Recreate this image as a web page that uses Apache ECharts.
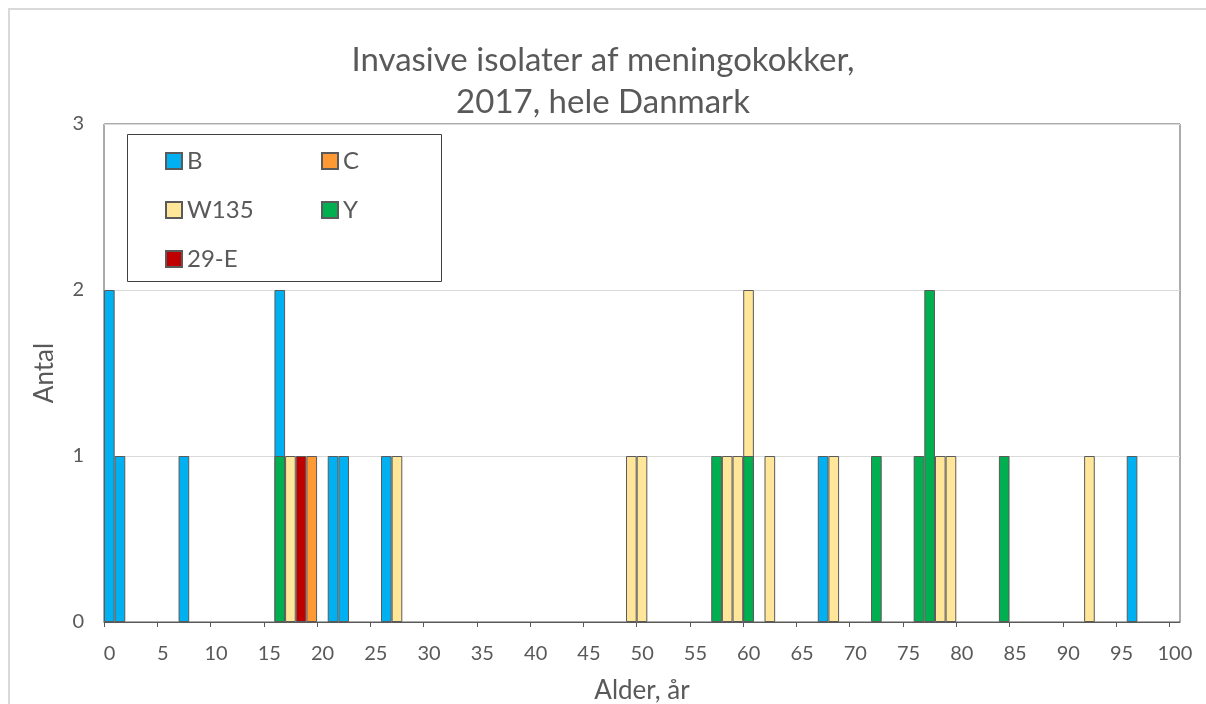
<!DOCTYPE html>
<html>
<head>
<meta charset="utf-8">
<script src="https://cdn.jsdelivr.net/npm/echarts@6/dist/echarts.min.js"></script>
<style>
  html, body { margin: 0; padding: 0; background: #fff; }
  #chart { width: 1206px; height: 704px; }
</style>
</head>
<body>
<div id="chart"></div>
<script>
// Alder (år) og antal pr. serogruppe
const bAges = [0, 1, 7, 16, 21, 22, 26, 67, 96]
const bCounts = [2, 1, 1, 2, 1, 1, 1, 1, 1]
const cAges = [19]
const cCounts = [1]
const w135Ages = [17, 27, 49, 50, 58, 59, 60, 62, 68, 78, 79, 92]
const w135Counts = [1, 1, 1, 1, 1, 1, 2, 1, 1, 1, 1, 1]
const yAges = [16, 57, 60, 72, 76, 77, 84]
const yCounts = [1, 1, 1, 1, 1, 2, 1]
const e29Ages = [18]
const e29Counts = [1]

const xTicks = [0, 5, 10, 15, 20, 25, 30, 35, 40, 45, 50, 55, 60, 65, 70, 75, 80, 85, 90, 95, 100]
const yTicks = [0, 1, 2, 3]

const font = 'Lato, "Open Sans", sans-serif'
const grey = '#595959'

// each bar covers the year [age, age+1]
const toPoints = (ages, counts) => ages.map((a, i) => [a + 0.5, counts[i]])

const serie = (name, ages, counts, color) => ({
  name,
  type: 'bar',
  data: toPoints(ages, counts),
  barWidth: '100%',
  barGap: '-100%',
  itemStyle: { color, borderColor: '#5a5a5a', borderWidth: 1 },
})

const legendText = { fontFamily: font, fontSize: 24, color: grey, lineHeight: 26, padding: [0, 0, 0, 0] }

const chart = echarts.init(document.getElementById('chart'))

chart.setOption({
  animation: false,
  textStyle: { fontFamily: font },
  title: {
    text: 'Invasive isolater af meningokokker,\n2017, hele Danmark',
    left: 'center',
    top: 34,
    textStyle: { fontFamily: font, fontSize: 33, fontWeight: 'normal', color: grey, lineHeight: 42 },
  },
  graphic: [
    { type: 'rect', left: 8, top: 8, z: -10, shape: { width: 1400, height: 900 },
      style: { fill: '#fff', stroke: '#d9d9d9', lineWidth: 2 } },
    { type: 'rect', left: 127, top: 134, z: 5, shape: { width: 314, height: 147 },
      style: { fill: '#fff', stroke: '#404040', lineWidth: 1 } },
  ],
  legend: [
    {
      data: ['B', 'W135', '29-E'],
      orient: 'vertical',
      left: 160, top: 143,
      icon: 'rect',
      itemWidth: 16, itemHeight: 16, itemGap: 23,
      textStyle: legendText,
      z: 10,
    },
    {
      data: ['C', 'Y'],
      orient: 'vertical',
      left: 316, top: 143,
      icon: 'rect',
      itemWidth: 16, itemHeight: 16, itemGap: 23,
      textStyle: legendText,
      z: 10,
    },
  ],
  grid: {
    left: 104, right: 26, top: 124, bottom: 82,
    outerBoundsMode: 'none',
    containLabel: false,
    show: true, borderColor: grey, borderWidth: 1,
  },
  xAxis: {
    type: 'value',
    min: 0, max: 101,
    name: 'Alder, år',
    nameLocation: 'middle',
    nameGap: 56,
    nameTextStyle: { fontFamily: font, fontSize: 26, color: grey },
    axisLine: { lineStyle: { color: grey } },
    axisTick: { show: true, length: 5, customValues: xTicks, lineStyle: { color: grey } },
    axisLabel: { customValues: xTicks, fontSize: 20, color: grey, margin: 22, padding: [0, 0, 0, 11] },
    splitLine: { show: false },
  },
  yAxis: {
    type: 'value',
    min: yTicks[0], max: yTicks[yTicks.length - 1], interval: 1,
    name: 'Antal',
    nameLocation: 'middle',
    nameGap: 46,
    nameTextStyle: { fontFamily: font, fontSize: 26, color: grey },
    axisLine: { show: false },
    axisTick: { show: false },
    axisLabel: { fontSize: 20, color: grey, margin: 20 },
    splitLine: { lineStyle: { color: '#d9d9d9' } },
  },
  series: [
    serie('B', bAges, bCounts, '#00B0F0'),
    serie('C', cAges, cCounts, '#FF9933'),
    serie('W135', w135Ages, w135Counts, '#FFE699'),
    serie('Y', yAges, yCounts, '#00B050'),
    serie('29-E', e29Ages, e29Counts, '#C00000'),
  ],
})
</script>
</body>
</html>
